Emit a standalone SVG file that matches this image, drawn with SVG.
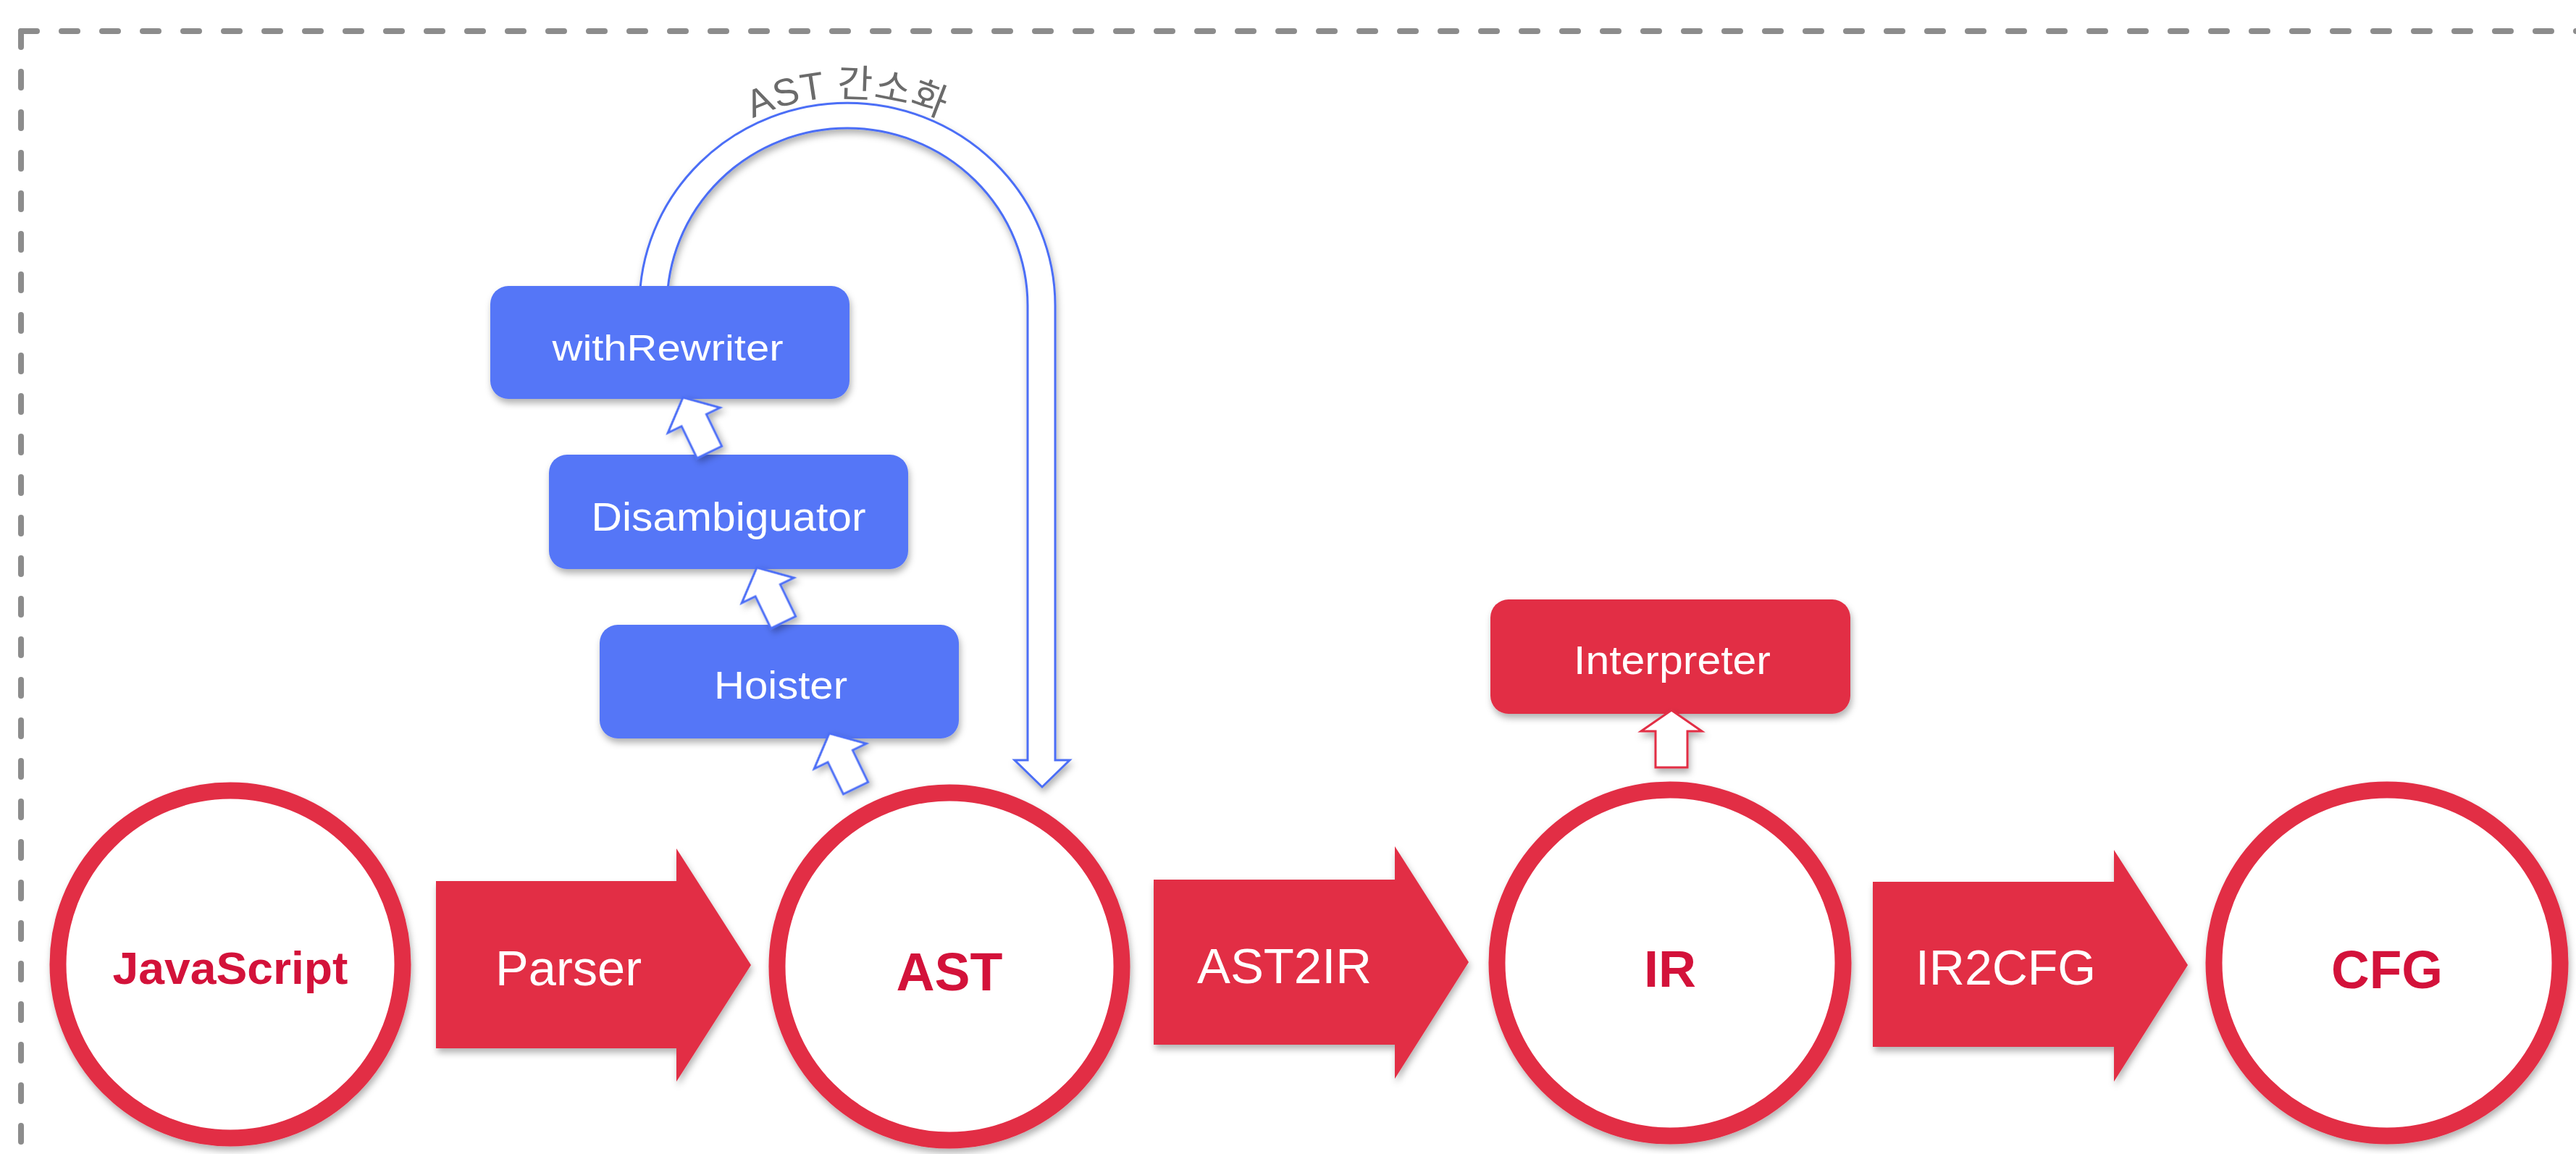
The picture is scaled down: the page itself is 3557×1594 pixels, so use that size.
<svg xmlns="http://www.w3.org/2000/svg" xmlns:xlink="http://www.w3.org/1999/xlink" width="3557" height="1594" viewBox="0 0 3557 1594">
  <style>
    .frame { fill: none; stroke: #8c8c8c; stroke-width: 8; stroke-dasharray: 22 34; stroke-linecap: round; }
    .ring { fill: #ffffff; stroke: #e22e45; stroke-width: 23; }
    .ringText { font-family: "Liberation Sans", Arial, sans-serif; font-weight: bold; fill: #d3123a; text-anchor: middle; }
    .pass { fill: #5476f7; }
    .run { fill: #e22e45; }
    .boxText { font-family: "Liberation Sans", Arial, sans-serif; fill: #ffffff; text-anchor: middle; }
    .flow { fill: #e22e45; }
    .flowText { font-family: "Liberation Sans", Arial, sans-serif; fill: #ffffff; font-size: 68px; }
    .hollowBlue { fill: #ffffff; stroke: #4c6ef6; stroke-width: 3; stroke-linejoin: miter; }
    .hollowRed { fill: #ffffff; stroke: #e22e45; stroke-width: 3; }
    .arcText { font-family: "Liberation Sans", "Noto Sans CJK KR", sans-serif; fill: #6b6b6b; font-size: 53px; letter-spacing: 1px; }
  </style>
  <defs>
    <filter id="shadow" x="-20%" y="-20%" width="140%" height="150%">
      <feDropShadow dx="2" dy="6" stdDeviation="5" flood-color="#000000" flood-opacity="0.3"/>
    </filter>
    <!-- small hollow arrow, tip at origin, pointing up -->
    <path id="stepArrow" d="M0,0 L40,35 L19,35 L19,84 L-19,84 L-19,35 L-40,35 Z"/>
    <path id="labelArc" d="M875,422 A295 288 0 0 1 1465,422"/>
  </defs>

  <rect width="3557" height="1594" fill="#ffffff"/>

  <!-- dashed frame (open to the right and bottom) -->
  <g id="frame">
    <path class="frame" d="M29,43 H3620"/>
    <path class="frame" d="M29,43 V1660"/>
  </g>

  <g id="connectors">
    <!-- simplification loop from withRewriter back to AST -->
    <g id="loop-arrow">
      <path filter="url(#shadow)" fill="#ffffff" stroke="#4c6ef6" stroke-width="3"
            d="M883,440 L883,422 A287 280 0 0 1 1457,422 L1457,1050 L1477,1050 L1439,1087 L1401,1050 L1419,1050 L1419,422 A249 245 0 0 0 921,422 L921,440 Z"/>
      <text class="arcText"><textPath href="#labelArc" xlink:href="#labelArc" startOffset="50%" text-anchor="middle">AST 간소화</textPath></text>
    </g>

    <!-- pipeline arrows -->
    <g id="edge-parser">
      <path class="flow" filter="url(#shadow)" d="M602,1217 H934 V1172 L1037,1333 L934,1494 V1448 H602 Z"/>
      <text class="flowText" x="684" y="1361" textLength="202" lengthAdjust="spacingAndGlyphs">Parser</text>
    </g>
    <g id="edge-ast2ir">
      <path class="flow" filter="url(#shadow)" d="M1593,1215 H1926 V1169 L2028,1329 L1926,1490 V1443 H1593 Z"/>
      <text class="flowText" x="1653" y="1358" textLength="241" lengthAdjust="spacingAndGlyphs">AST2IR</text>
    </g>
    <g id="edge-ir2cfg">
      <path class="flow" filter="url(#shadow)" d="M2586,1218 H2919 V1174 L3021,1333 L2919,1494 V1446 H2586 Z"/>
      <text class="flowText" x="2645" y="1360" textLength="249" lengthAdjust="spacingAndGlyphs">IR2CFG</text>
    </g>
  </g>

  <!-- AST passes -->
  <g id="node-withRewriter">
    <rect class="pass" filter="url(#shadow)" x="677" y="395" width="496" height="156" rx="25"/>
    <text class="boxText" x="922" y="498" font-size="50" textLength="319" lengthAdjust="spacingAndGlyphs">withRewriter</text>
  </g>
  <g id="node-disambiguator">
    <rect class="pass" filter="url(#shadow)" x="758" y="628" width="496" height="158" rx="25"/>
    <text class="boxText" x="1006" y="733" font-size="56" textLength="379" lengthAdjust="spacingAndGlyphs">Disambiguator</text>
  </g>
  <g id="node-hoister">
    <rect class="pass" filter="url(#shadow)" x="828" y="863" width="496" height="157" rx="25"/>
    <text class="boxText" x="1078" y="965" font-size="54" textLength="184" lengthAdjust="spacingAndGlyphs">Hoister</text>
  </g>
  <g id="node-interpreter">
    <rect class="run" filter="url(#shadow)" x="2058" y="828" width="497" height="158" rx="25"/>
    <text class="boxText" x="2309" y="931" font-size="56" textLength="272" lengthAdjust="spacingAndGlyphs">Interpreter</text>
  </g>

  <!-- pass-to-pass arrows -->
  <g id="step-arrows">
    <use href="#stepArrow" xlink:href="#stepArrow" class="hollowBlue" filter="url(#shadow)" transform="translate(943,549) rotate(-25.8)"/>
    <use href="#stepArrow" xlink:href="#stepArrow" class="hollowBlue" filter="url(#shadow)" transform="translate(1045,784) rotate(-25.8)"/>
    <use href="#stepArrow" xlink:href="#stepArrow" class="hollowBlue" filter="url(#shadow)" transform="translate(1145,1013) rotate(-25.8)"/>
    <path class="hollowRed" filter="url(#shadow)" d="M2308,981 L2350,1010 L2330,1010 L2330,1060 L2286,1060 L2286,1010 L2266,1010 Z"/>
  </g>

  <!-- representations -->
  <g id="node-javascript">
    <ellipse class="ring" filter="url(#shadow)" cx="318" cy="1332" rx="238" ry="240"/>
    <text class="ringText" x="318" y="1359" font-size="63" textLength="325" lengthAdjust="spacingAndGlyphs">JavaScript</text>
  </g>
  <g id="node-ast">
    <ellipse class="ring" filter="url(#shadow)" cx="1311" cy="1335" rx="238" ry="240"/>
    <text class="ringText" x="1311" y="1368" font-size="74" textLength="147" lengthAdjust="spacingAndGlyphs">AST</text>
  </g>
  <g id="node-ir">
    <ellipse class="ring" filter="url(#shadow)" cx="2306" cy="1330" rx="239" ry="239"/>
    <text class="ringText" x="2306" y="1363" font-size="70" textLength="72" lengthAdjust="spacingAndGlyphs">IR</text>
  </g>
  <g id="node-cfg">
    <ellipse class="ring" filter="url(#shadow)" cx="3296" cy="1330" rx="239" ry="239"/>
    <text class="ringText" x="3296" y="1365" font-size="74" textLength="154" lengthAdjust="spacingAndGlyphs">CFG</text>
  </g>
</svg>
